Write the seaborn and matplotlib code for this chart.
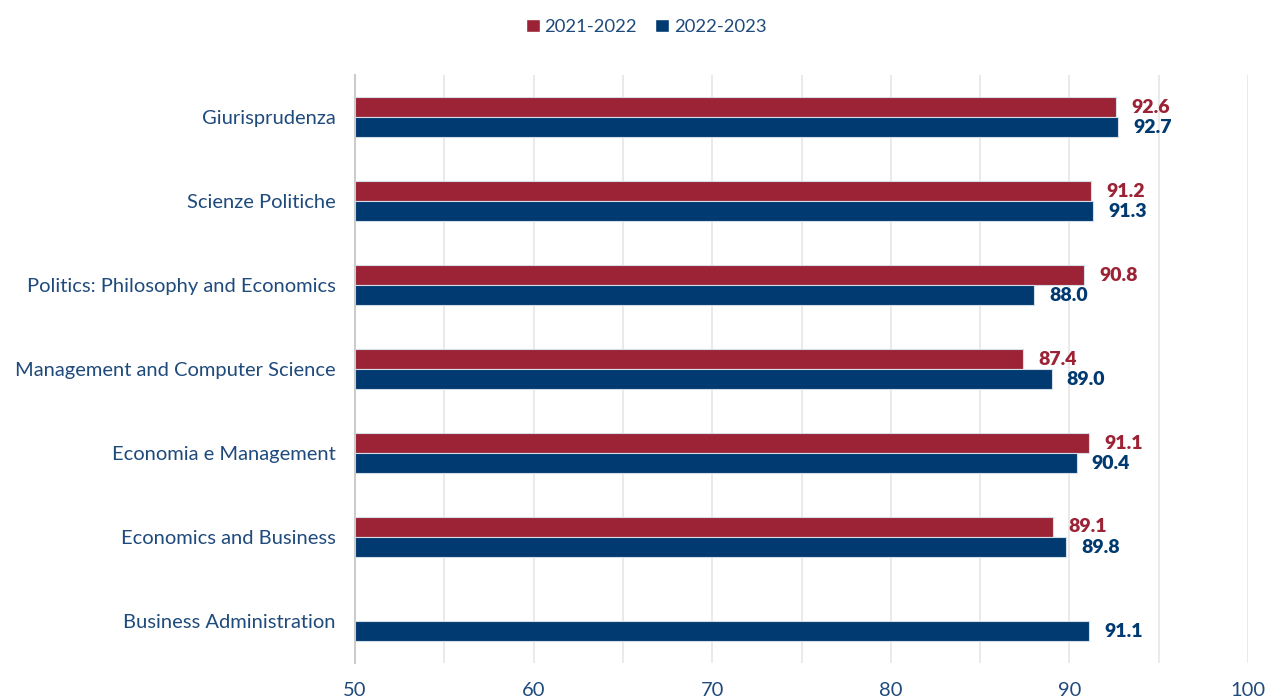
import numpy as np
import pandas as pd
import matplotlib
matplotlib.use("Agg")
import matplotlib.pyplot as plt
import seaborn as sns
from matplotlib.ticker import MultipleLocator
from matplotlib.patches import Patch

# Data
courses = [
    "Giurisprudenza",
    "Scienze Politiche",
    "Politics: Philosophy and Economics",
    "Management and Computer Science",
    "Economia e Management",
    "Economics and Business",
    "Business Administration",
]
years = ["2021-2022", "2022-2023"]
vals_2122 = [92.6, 91.2, 90.8, 87.4, 91.1, 89.1, np.nan]
vals_2223 = [92.7, 91.3, 88.0, 89.0, 90.4, 89.8, 91.1]

RED = "#9b2335"
BLUE = "#003a70"
TEXT = "#1f4a7c"

df = pd.DataFrame({
    "course": courses * 2,
    "year": [years[0]] * len(courses) + [years[1]] * len(courses),
    "value": vals_2122 + vals_2223,
})

sns.set_theme(style="white")
plt.rcParams["font.family"] = ["Lato", "DejaVu Sans"]

fig, ax = plt.subplots(figsize=(12.67, 6.97), dpi=100)
fig.subplots_adjust(left=0.2802, right=0.985, top=0.892, bottom=0.0488)

sns.barplot(data=df, y="course", x="value", hue="year", order=courses,
            hue_order=years, palette=[RED, BLUE], saturation=1, orient="h",
            width=0.48, edgecolor="#d5dde8", linewidth=0.8, legend=False, ax=ax)

ax.set_xlim(50, 100)
ax.set_ylim(6.5, -0.5)
ax.xaxis.set_major_locator(MultipleLocator(10))
ax.xaxis.set_minor_locator(MultipleLocator(5))
ax.grid(axis="x", which="both", color="#e6e6e6", linewidth=1.2)
ax.set_axisbelow(True)
for s in ["top", "right", "bottom"]:
    ax.spines[s].set_visible(False)
ax.spines["left"].set_color("#cccccc")
ax.spines["left"].set_linewidth(1.5)

ax.set_xlabel("")
ax.set_ylabel("")
ax.tick_params(axis="y", length=0, pad=14, labelsize=14.5, labelcolor=TEXT)
ax.tick_params(axis="x", which="both", length=0, pad=14, labelsize=14.5, labelcolor=TEXT)

# value labels
for cont, col in zip(ax.containers, [RED, BLUE]):
    labels = ["" if np.isnan(v) else f"{v:.1f}" for v in cont.datavalues]
    ax.bar_label(cont, labels=labels, padding=11, color=col,
                 fontsize=14, fontweight="heavy")

handles = [Patch(facecolor=RED, label=years[0]), Patch(facecolor=BLUE, label=years[1])]
fig.legend(handles=handles, loc="center", bbox_to_anchor=(0.51, 1 - 27 / 697),
           ncol=2, frameon=False, handlelength=0.75, handleheight=0.75,
           handletextpad=0.25, columnspacing=1.0, fontsize=13.3,
           labelcolor=TEXT)

fig.savefig("out.png", dpi=100)
